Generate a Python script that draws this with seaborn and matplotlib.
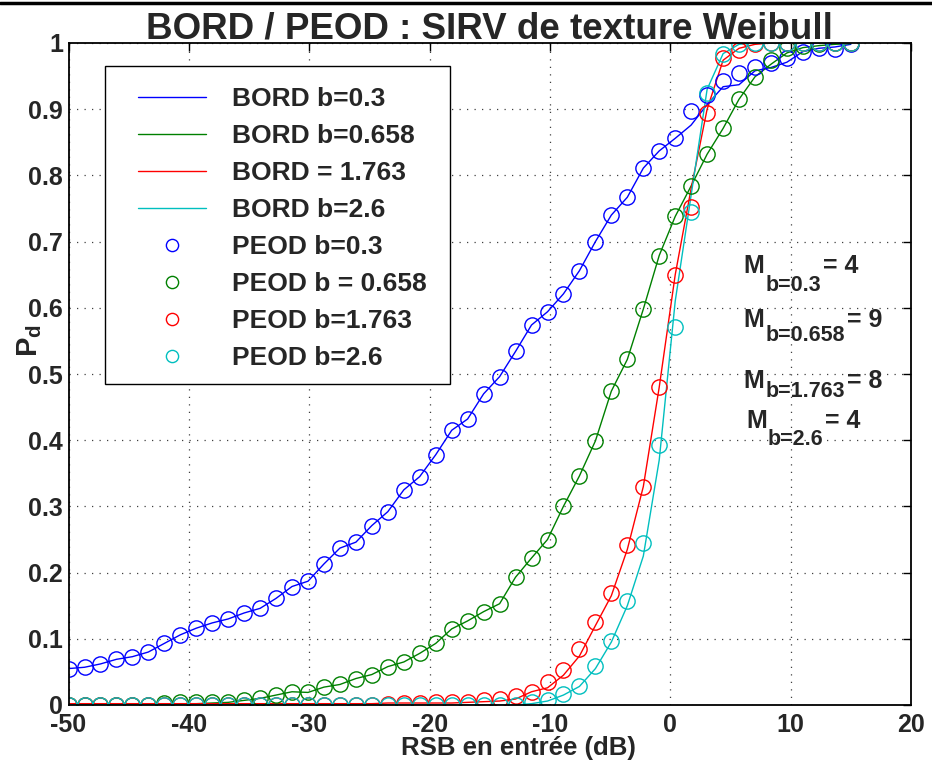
import numpy as np
import pandas as pd
import seaborn as sns
import matplotlib
matplotlib.use("Agg")
import matplotlib.pyplot as plt
from matplotlib.lines import Line2D
from matplotlib.patches import Rectangle
from matplotlib.transforms import offset_copy

# ---------------- data ----------------
snr_db = [-50.00, -48.67, -47.35, -46.02, -44.69, -43.37, -42.04, -40.71, -39.39, -38.06,
          -36.73, -35.41, -34.08, -32.76, -31.43, -30.10, -28.78, -27.45, -26.12, -24.80,
          -23.47, -22.14, -20.82, -19.49, -18.16, -16.84, -15.51, -14.18, -12.86, -11.53,
          -10.20, -8.88, -7.55, -6.22, -4.90, -3.57, -2.24, -0.92, 0.41, 1.73,
          3.06, 4.39, 5.71, 7.04, 8.37, 9.69, 11.02, 12.35, 13.67, 15.00]

bord_b03 = [0.055, 0.057, 0.062, 0.069, 0.073, 0.080, 0.093, 0.106, 0.116, 0.124,
            0.130, 0.139, 0.146, 0.161, 0.179, 0.187, 0.213, 0.237, 0.246, 0.271,
            0.292, 0.325, 0.345, 0.378, 0.415, 0.432, 0.470, 0.496, 0.534, 0.574,
            0.594, 0.621, 0.656, 0.700, 0.740, 0.767, 0.811, 0.837, 0.856, 0.876,
            0.907, 0.934, 0.937, 0.958, 0.963, 0.971, 0.987, 0.992, 0.994, 0.998]
bord_b0658 = [0.000, 0.000, 0.000, 0.000, 0.000, 0.000, 0.001, 0.002, 0.002, 0.003,
              0.004, 0.007, 0.010, 0.015, 0.020, 0.019, 0.027, 0.031, 0.040, 0.046,
              0.058, 0.065, 0.078, 0.093, 0.115, 0.127, 0.141, 0.153, 0.193, 0.222,
              0.250, 0.300, 0.346, 0.399, 0.474, 0.522, 0.598, 0.679, 0.738, 0.784,
              0.832, 0.871, 0.915, 0.949, 0.968, 0.985, 0.993, 0.996, 0.998, 0.999]
bord_b1763 = [0.002, 0.002, 0.002, 0.002, 0.002, 0.002, 0.002, 0.002, 0.002, 0.002,
              0.002, 0.002, 0.002, 0.002, 0.002, 0.002, 0.002, 0.002, 0.002, 0.002,
              0.003, 0.003, 0.003, 0.003, 0.003, 0.004, 0.005, 0.006, 0.009, 0.020,
              0.026, 0.045, 0.074, 0.120, 0.165, 0.235, 0.330, 0.480, 0.650, 0.780,
              0.900, 0.974, 0.992, 0.998, 1.000, 1.000, 1.000, 1.000, 1.000, 1.000]
bord_b26 = [0.000, 0.000, 0.000, 0.000, 0.000, 0.000, 0.000, 0.000, 0.000, 0.000,
            0.000, 0.000, 0.000, 0.000, 0.000, 0.000, 0.000, 0.000, 0.000, 0.000,
            0.000, 0.000, 0.000, 0.000, 0.000, 0.000, 0.000, 0.000, 0.000, 0.002,
            0.006, 0.015, 0.028, 0.055, 0.095, 0.150, 0.225, 0.370, 0.610, 0.770,
            0.930, 0.984, 0.998, 1.000, 1.000, 1.000, 1.000, 1.000, 1.000, 1.000]

peod_b03 = [0.055, 0.057, 0.062, 0.069, 0.073, 0.080, 0.093, 0.106, 0.116, 0.124,
            0.130, 0.139, 0.146, 0.161, 0.179, 0.187, 0.213, 0.237, 0.246, 0.271,
            0.292, 0.325, 0.345, 0.378, 0.415, 0.432, 0.470, 0.496, 0.534, 0.574,
            0.594, 0.621, 0.656, 0.700, 0.740, 0.767, 0.811, 0.837, 0.856, 0.897,
            0.921, 0.943, 0.954, 0.963, 0.970, 0.978, 0.986, 0.992, 0.991, 0.998]
peod_b0658 = [0.000, 0.000, 0.000, 0.000, 0.000, 0.000, 0.003, 0.005, 0.004, 0.004,
              0.004, 0.007, 0.010, 0.015, 0.020, 0.019, 0.027, 0.031, 0.040, 0.046,
              0.058, 0.065, 0.078, 0.093, 0.115, 0.127, 0.141, 0.153, 0.193, 0.222,
              0.250, 0.300, 0.346, 0.399, 0.474, 0.522, 0.598, 0.679, 0.738, 0.784,
              0.832, 0.871, 0.915, 0.949, 0.974, 0.993, 0.996, 0.999, 1.000, 1.000]
peod_b1763 = [0.000, 0.000, 0.000, 0.000, 0.000, 0.000, 0.000, 0.000, 0.000, 0.000,
              0.000, 0.000, 0.000, 0.000, 0.000, 0.000, 0.000, 0.000, 0.000, 0.000,
              0.002, 0.003, 0.003, 0.005, 0.005, 0.004, 0.008, 0.009, 0.014, 0.019,
              0.035, 0.053, 0.085, 0.125, 0.169, 0.241, 0.330, 0.480, 0.649, 0.753,
              0.895, 0.977, 0.989, 0.999, 1.000, 1.000, 1.000, 1.000, 1.000, 1.000]
peod_b26 = [0.000, 0.000, 0.000, 0.000, 0.000, 0.000, 0.000, 0.000, 0.000, 0.000,
            0.000, 0.000, 0.000, 0.000, 0.000, 0.000, 0.000, 0.000, 0.000, 0.000,
            0.000, 0.000, 0.000, 0.000, 0.000, 0.000, 0.000, 0.000, 0.000, 0.005,
            0.008, 0.017, 0.029, 0.059, 0.097, 0.157, 0.245, 0.392, 0.571, 0.744,
            0.925, 0.983, 0.999, 1.000, 1.000, 1.000, 1.000, 1.000, 1.000, 1.000]

line_labels = ["BORD b=0.3", "BORD b=0.658", "BORD = 1.763", "BORD b=2.6"]
marker_labels = ["PEOD b=0.3", "PEOD b = 0.658", "PEOD b=1.763", "PEOD b=2.6"]
colors = ["#0000ff", "#008000", "#ff0000", "#00bfbf"]

m_text = [("b=0.3", "= 4"), ("b=0.658", "= 9"), ("b=1.763", "= 8"), ("b=2.6", "= 4")]

x_ticks = [-50, -40, -30, -20, -10, 0, 10, 20]
y_ticks = [0, 0.1, 0.2, 0.3, 0.4, 0.5, 0.6, 0.7, 0.8, 0.9, 1]
y_ticklabels = ["0", "0.1", "0.2", "0.3", "0.4", "0.5", "0.6", "0.7", "0.8", "0.9", "1"]

title = "BORD / PEOD : SIRV de texture Weibull"
xlabel = "RSB en entrée (dB)"
ylabel = r"$\mathregular{P_d}$"

# ---------------- style ----------------
sns.set_theme(style="white")
plt.rcParams["font.family"] = ["Liberation Sans", "DejaVu Sans"]
plt.rcParams["font.weight"] = "bold"
plt.rcParams["axes.unicode_minus"] = False
plt.rcParams["mathtext.fontset"] = "custom"
plt.rcParams["mathtext.rm"] = "Liberation Sans:bold"
plt.rcParams["mathtext.it"] = "Liberation Sans:bold"
plt.rcParams["mathtext.bf"] = "Liberation Sans:bold"

DPI = 100
fig = plt.figure(figsize=(9.32, 7.79), dpi=DPI)
ax = fig.add_axes([68.5 / 932, 1 - 705 / 779, (911 - 68.5) / 932, (705 - 43) / 779])

bord = [bord_b03, bord_b0658, bord_b1763, bord_b26]
peod = [peod_b03, peod_b0658, peod_b1763, peod_b26]

for ys, lab, c in zip(bord, line_labels, colors):
    df = pd.DataFrame({"x": snr_db, "y": ys})
    sns.lineplot(data=df, x="x", y="y", ax=ax, color=c, lw=1.0, label=lab,
                 estimator=None, sort=False, errorbar=None)

for ys, lab, c in zip(peod, marker_labels, colors):
    df = pd.DataFrame({"x": snr_db, "y": ys})
    sns.lineplot(data=df, x="x", y="y", ax=ax, color=c, linestyle="none", marker="o",
                 markersize=11, markerfacecolor="none", markeredgecolor=c,
                 markeredgewidth=1.0, label=lab, estimator=None, sort=False,
                 errorbar=None)

ax.set_xlim(-50, 20)
ax.set_ylim(0, 1)
ax.set_xticks(x_ticks)
ax.set_xticklabels([str(t) for t in x_ticks])
ax.set_yticks(y_ticks)
ax.set_yticklabels(y_ticklabels)
ax.tick_params(axis="both", which="major", direction="in", length=6, width=1,
               top=True, right=True, labelsize=18, color="black")
ax.tick_params(axis="y", pad=4)
ax.tick_params(axis="x", pad=6)
for lab in ax.get_xticklabels() + ax.get_yticklabels():
    lab.set_fontweight("bold")
for sp in ax.spines.values():
    sp.set_color("black")
    sp.set_linewidth(1.3)
ax.grid(True, color="0.25", linestyle=(0, (1, 5)), linewidth=0.9)

ax.set_title(title, fontsize=26.5, fontweight="bold", pad=3)
ax.set_xlabel(xlabel, fontsize=18.5, fontweight="bold")
ax.xaxis.set_label_coords(0.534, -0.047)
ax.set_ylabel(ylabel, fontsize=21, fontweight="bold")
ax.yaxis.set_label_coords(-0.029, 0.55)

# legend frame drawn as a rectangle, legend content without frame
ax.add_patch(Rectangle((0.0433, 0.4849), 0.4095, 0.4804, transform=ax.transAxes,
                       facecolor="white", edgecolor="black", lw=1.0, zorder=4.5))
leg = ax.legend(loc="upper left", bbox_to_anchor=(0.0825, 0.933), frameon=False,
                prop={"weight": "bold", "size": 19}, handlelength=2.58,
                handletextpad=0.98, borderpad=0, labelspacing=0.49,
                markerscale=0.8, borderaxespad=0)
leg.set_zorder(5)

# annotations M_{b=...} = N
fig.canvas.draw()
renderer = fig.canvas.get_renderer()
m_pos = [(6.1, 0.6526, 18), (6.1, 0.571, 14), (6.1, 0.479, 9), (6.3, 0.418, 17)]
for (sub, eq), (mx, my, dy) in zip(m_text, m_pos):
    t1 = ax.text(mx, my, "M", fontsize=18, fontweight="bold", ha="left", va="baseline")
    w1 = t1.get_window_extent(renderer).width * 72 / DPI
    tr2 = offset_copy(ax.transData, fig=fig, x=w1 + 0.5, y=-dy * 72 / DPI, units="points")
    t2 = ax.text(mx, my, sub, fontsize=15.5, fontweight="bold", ha="left",
                 va="baseline", transform=tr2)
    w2 = t2.get_window_extent(renderer).width * 72 / DPI
    tr3 = offset_copy(ax.transData, fig=fig, x=w1 + w2 + 2.0, y=0, units="points")
    ax.text(mx, my, eq, fontsize=18, fontweight="bold", ha="left", va="baseline",
            transform=tr3)

# top frame line of the figure
fig.add_artist(Line2D([0, 1], [1 - 3 / 779, 1 - 3 / 779], transform=fig.transFigure,
                      color="black", lw=2.5))

fig.savefig("out.png", dpi=DPI)
